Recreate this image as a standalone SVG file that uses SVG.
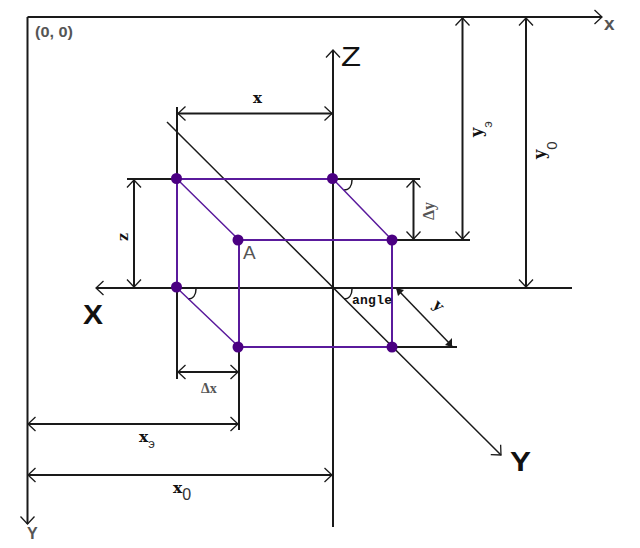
<svg xmlns="http://www.w3.org/2000/svg" width="640" height="548" viewBox="0 0 640 548">
<style>
.k{stroke:#1a1a1a;stroke-width:2;fill:none}
.t{stroke:#1a1a1a;stroke-width:1.5;fill:none}
.p{stroke:#5a1a9c;stroke-width:2;fill:none}
.d{stroke:#5a1a9c;stroke-width:1.5;fill:none}
.a{marker-end:url(#h)}
.b{marker-start:url(#hs);marker-end:url(#h)}
.dot{fill:#4b0082}
text{fill:#111}
.m{font-family:"Liberation Mono",monospace;font-weight:700}
.v{font-family:"DejaVu Serif",serif;font-weight:700}
.sa{font-family:"Liberation Sans",sans-serif}
.se{font-family:"Liberation Serif",serif;font-weight:700}
.r{font-family:"Liberation Sans",sans-serif;font-weight:400;fill:#333}
.g{fill:#555}
</style>
<defs>
<marker id="h" markerUnits="userSpaceOnUse" markerWidth="20" markerHeight="20" refX="10" refY="10" orient="auto"><path d="M2.500 3L10 10L2.500 17" fill="none" stroke="#1a1a1a" stroke-width="1.300"/></marker>
<marker id="hs" markerUnits="userSpaceOnUse" markerWidth="20" markerHeight="20" refX="10" refY="10" orient="auto"><path d="M17.500 3L10 10L17.500 17" fill="none" stroke="#1a1a1a" stroke-width="1.300"/></marker>
</defs>
<g id="connectors">
<path class="k a" d="M27.500 17H602"/>
<path class="k a" d="M27.500 17V524"/>
<path class="k a" d="M333 527V50"/>
<path class="k a" d="M572 288H96"/>
<path class="t a" d="M167 122L501 455"/>
<path class="k" d="M177 107V179M127 179H177M333 179H420M392 240H470M177 288V379M239 347V430M392 347H457"/>
<path class="k b" d="M178 113.500H332"/>
<path class="k b" d="M134 180V287"/>
<path class="k b" d="M413.500 180V239"/>
<path class="k b" d="M462.500 18V239"/>
<path class="k b" d="M526 18V287"/>
<path class="k b" d="M178 372H238"/>
<path class="k b" d="M28 424H238"/>
<path class="k b" d="M28 475H332"/>
<path class="t" d="M397 289L452 346"/>
<path d="M396 288L404 290L398 296ZM452 347L445 345L452 338Z" fill="#1a1a1a"/>
<path class="t" d="M352 180C352 186 349 190 344 190M196 289C196 295 193 299 188 299M352 289C352 295 349 299 344 299"/>
<path class="p" d="M177 179H333M239 240H392V347H239ZM177 179V288"/>
<path class="d" d="M177 179L239 240M333 179L392 240M177 288L239 347"/>
</g>
<g id="node-p1"><circle class="dot" cx="176.500" cy="178.500" r="5.500"/></g>
<g id="node-p2"><circle class="dot" cx="332.500" cy="178.500" r="5.500"/></g>
<g id="node-A"><circle class="dot" cx="238" cy="240" r="5.500"/><text class="sa g" x="243" y="259" font-size="19">A</text></g>
<g id="node-p4"><circle class="dot" cx="392" cy="240" r="5.500"/></g>
<g id="node-p5"><circle class="dot" cx="176.500" cy="287" r="5.500"/></g>
<g id="node-p6"><circle class="dot" cx="238" cy="347" r="5.500"/></g>
<g id="node-p7"><circle class="dot" cx="392" cy="347" r="5.500"/></g>
<g id="labels">
<text class="sa g" x="35" y="37" font-size="14" font-weight="700" textLength="38" lengthAdjust="spacingAndGlyphs">(0, 0)</text>
<text class="sa g" x="604" y="30" font-size="19" font-weight="700">x</text>
<text class="sa g" x="27" y="539" font-size="16" font-weight="700">Y</text>
<text class="sa" x="341" y="66" font-size="27" textLength="20" lengthAdjust="spacingAndGlyphs">Z</text>
<text class="sa" x="83" y="324" font-size="28" font-weight="700" textLength="20" lengthAdjust="spacingAndGlyphs">X</text>
<text class="sa" x="510" y="471" font-size="28" font-weight="700" textLength="21" lengthAdjust="spacingAndGlyphs">Y</text>
<text class="v" x="257.500" y="103" font-size="15" text-anchor="middle">x</text>
<text class="v" transform="translate(127.500 237) rotate(-90)" font-size="14" text-anchor="middle">z</text>
<text class="m" x="352" y="304" font-size="13" textLength="40">angle</text>
<text class="v" transform="translate(435 309) rotate(45)" font-size="15" text-anchor="middle">y</text>
<text class="se g" transform="translate(434 220) rotate(-90)" font-size="16">Δy</text>
<text class="se g" x="201" y="393" font-size="14">Δx</text>
<text class="v" transform="translate(482 137) rotate(-90)" font-size="16">y<tspan class="r" font-size="13" dy="10">э</tspan></text>
<text class="v" transform="translate(545 159) rotate(-90)" font-size="16">y<tspan class="r" font-size="15" dy="12">0</tspan></text>
<text class="v" x="139" y="442" font-size="15.500">x<tspan class="r" font-size="13" dy="6">э</tspan></text>
<text class="v" x="173" y="493" font-size="15.500">x<tspan class="r" font-size="16" dy="7">0</tspan></text>
</g>
</svg>
